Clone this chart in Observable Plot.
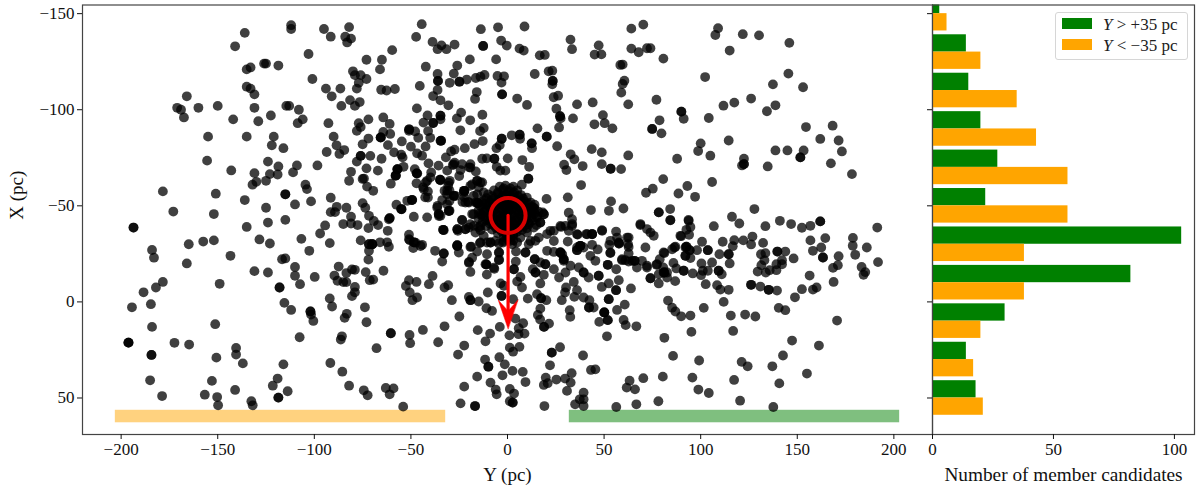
<!DOCTYPE html>
<html><head><meta charset="utf-8">
<script src="https://cdn.jsdelivr.net/npm/d3@7"></script>
<script src="https://cdn.jsdelivr.net/npm/@observablehq/plot@0.6"></script>
<style>
html,body{margin:0;padding:0;background:#fff}
#root{position:relative;width:1200px;height:491px;overflow:hidden;font-family:"Liberation Serif",serif}
#root svg{position:absolute;top:0;background:transparent;overflow:visible}
#legend{position:absolute;left:1055px;top:11.5px;width:130.5px;height:46.5px;border:1px solid #d6d6d6;border-radius:3px;background:rgba(255,255,255,.8);color:#222;font-size:17px}
#legend .sw{position:absolute;left:5.5px;width:30px;height:11px}
#legend .tx{position:absolute;left:47px;white-space:nowrap;line-height:17px}
</style></head><body><div id="root"></div>
<script>
const starsUpperLeft = [[-112,-144],[-112,-142],[-136,-140],[-141,-133],[-95,-142],[-91.5,-138],[-82,-143],[-84,-138],[-81,-137],[-83,-135],[-103,-129],[-73,-126],[-126,-124],[-125,-124],[-118.6,-123],[-133,-122],[-135,-121],[-80,-120],[-79,-118],[-76,-118],[-73,-116],[-101,-116],[-77,-114],[-78,-111],[-135,-112],[-133,-111],[-131,-108],[-94,-111],[-86.5,-111],[-91,-107],[-81.5,-105],[-76.5,-104],[-79,-102],[-86,-102],[-166,-107],[-171,-101],[-169,-100],[-167.5,-96],[-160,-101],[-150,-102],[-131,-101],[-114.5,-102],[-113,-102],[-108,-100],[-122.5,-97],[-129,-94],[-142,-95],[-106,-95],[-108.6,-93],[-92.7,-93],[-77,-93],[-72,-95],[-76,-91],[-78,-89],[-155,-86],[-135,-86],[-121,-86],[-90,-86],[-72,-85],[-75,-82],[-122,-81.5],[-116,-80],[-88.5,-81.5],[-84.5,-79],[-93.6,-78],[-87,-77],[-76,-76],[-71,-76],[-78,-73],[-155.5,-73.5],[-124,-73],[-118.6,-70.5],[-109,-71],[-98.4,-71],[-73,-69.5],[-143,-68.4],[-131,-67],[-123,-66.5],[-119,-66.3],[-111,-67.4],[-81,-67.7],[-75,-64],[-82,-63],[-125,-63],[-130,-62.5],[-132,-61],[-104.6,-61],[-103.8,-58.7],[-72.7,-60],[-178.4,-57.5],[-151,-56.3],[-115,-56],[-115,-56],[-136,-53],[-91.5,-54.2],[-101.7,-52.3],[-110,-50.7],[-75,-51.4],[-88.4,-49.5],[-73.6,-49],[-83.4,-49],[-125,-49],[-173,-47],[-152,-45.7],[-91.5,-46.7],[-89.3,-46.7],[-81,-44.3],[-71.7,-44.8]];
const starsLowerLeft = [[-193.6,-38.7],[-193.6,-38.7],[-135,-39],[-124,-41.3],[-115,-42.7],[-94.4,-39.8],[-85,-40.5],[-81,-40.8],[-77.6,-40],[-72,-38.4],[-97,-35.6],[-184,-27],[-183,-23],[-165,-30],[-157.5,-31.4],[-152,-32],[-128.4,-32.5],[-123,-30.4],[-106.7,-32.8],[-92,-30.6],[-76,-32],[-71.7,-30],[-71.7,-30],[-102.6,-26.6],[-143.4,-24],[-166,-20],[-116.7,-22.2],[-115,-22.6],[-71.7,-26.6],[-72,-22],[-110,-18.2],[-87.4,-18.4],[-131,-16],[-124,-15.3],[-110,-13.6],[-99.8,-13],[-89.6,-13.7],[-83.4,-15],[-80.5,-16.9],[-79,-16.7],[-73.4,-15.5],[-71.3,-11.3],[-88,-11],[-85,-10.3],[-83.4,-10.3],[-107.4,-9.2],[-149,-9.4],[-178.4,-10.4],[-182,-7.5],[-188.4,-5],[-118,-7.5],[-118,-7.5],[-79,-7.8],[-79,-5],[-80.5,-3],[-92,-1.8],[-184.6,1.2],[-194.4,2.8],[-115.5,0.5],[-112,4.2],[-90.8,2.4],[-73.8,2.8],[-102,5],[-102,5],[-101.7,6.6],[-100.5,9.9],[-83.2,6.2],[-84.3,8.3],[-73,10.6],[-184,13],[-151.3,11.6],[-107.6,18.4],[-85.7,17.9],[-86.3,19.6],[-196.2,21.2],[-196.2,21.2],[-196.2,21.2],[-172.4,21.3],[-164.8,22.2],[-140.5,24],[-140.5,27.4],[-184.3,27.6],[-184.3,27.6],[-150.7,29],[-137,32],[-116,32.5],[-91.7,31.8],[-85.5,36.3],[-119,39.9],[-185,40.8],[-153,41.1],[-121.5,43.6],[-82,43.6],[-113.8,46.5],[-141,45.8],[-74.4,46],[-72.4,48.6],[-178.8,49],[-156.7,48.3],[-150.3,49.5],[-118.6,49.8],[-118.6,49.8],[-132.6,51.7],[-131.9,53.8],[-149.8,53.8]];
const starsUpperMiddle = [[-44.4,-144.5],[-47.3,-137.9],[-59.7,-131],[-65,-126],[-66,-121],[-65.4,-110.4],[-62.6,-110],[-58.3,-110.8],[-38.8,-135.3],[-36.2,-131.5],[-34.2,-133.5],[-31.6,-131.5],[-27.4,-133.9],[-42.3,-122.4],[-26,-123],[-19.5,-126.2],[-13.8,-141.9],[-4.9,-142.9],[8.8,-143.3],[-12.6,-133.2],[-12.6,-133.2],[-3.3,-136],[-0.4,-133.4],[6.2,-131.8],[8.4,-130.8],[-5.9,-126.2],[16.7,-128.3],[19.3,-128.5],[32.6,-136.5],[33.4,-131.5],[47.2,-133.5],[45.1,-128.7],[48.6,-128.8],[64.1,-142.2],[70.3,-144.3],[64.1,-131.8],[67.9,-129.9],[72.2,-132],[58.4,-123.3],[59.6,-123.5],[-36.2,-118.6],[-27.8,-118.8],[-36,-115],[-36,-115],[-29.9,-114],[-24.9,-114.6],[-24.9,-114.6],[-21.1,-115.7],[-16.4,-116.5],[-14,-117.2],[-11.9,-118.1],[-5.2,-117.6],[-1.8,-117.4],[-3.1,-114.1],[-2.8,-108],[-2.8,-108],[-45.4,-112.4],[-36.2,-110.3],[-38.5,-107.1],[-34.7,-104.9],[-30.6,-102.3],[-15.9,-109.2],[-16.8,-105.6],[5,-105.8],[10.1,-102.5],[14.1,-118.6],[21.3,-120],[23.2,-120.3],[23.4,-115],[23.4,-115],[23.2,-113.2],[26.2,-107.3],[23.9,-106.5],[36,-102.8],[44.1,-103.8],[62.5,-102.8],[60.5,-115.1],[59.6,-113.4],[58.9,-108.9],[25.3,-100.5],[27.2,-96.6],[27.2,-96.6],[27.5,-95.5],[26.7,-90.8],[33.9,-95.5],[49.4,-97.2],[45,-92.4],[50.3,-93],[54.3,-90.3],[-46.9,-100.7],[-64.3,-96],[-61,-92.6],[-41.4,-97],[-43.5,-93.3],[-38.5,-93.1],[-38.5,-93.1],[-34.7,-96.9],[-34.7,-96.9],[-34.7,-95],[-24,-98.5],[-26.2,-95.5],[-19.3,-94.5],[-13,-97.4],[-24.4,-89.3],[-12.3,-90.5],[-14.2,-88.9],[-64.3,-88.4],[-60.7,-87.4],[-65.6,-85.6],[-65.6,-85.6],[-50.9,-89.8],[-50.9,-89.8],[-47.8,-88.7],[-41.1,-88.9],[-46.2,-85.4],[-40,-85.4],[-34.4,-83.9],[-34.4,-83.9],[-54.7,-83.5],[-61.9,-81.6],[-50,-80.8],[-42.4,-80.9],[15.5,-90.3],[20.3,-86],[20.3,-86],[2.2,-86.7],[6.3,-87],[6.3,-87],[6.5,-84.9],[-3,-84.9],[-3,-84.9],[-4,-81.6],[-5.7,-80],[12.5,-82.5],[12.5,-82.5],[12.7,-80],[25.7,-81],[43.6,-79.5],[48.8,-77.8],[62.5,-76.2],[32.7,-76.8],[34.6,-74.2],[38.9,-70.7],[48.8,-71.7],[53.4,-69.3],[53.4,-69.3],[58.8,-69.1],[29.3,-71.4],[30.5,-68.6],[38.1,-60.8],[31.2,-54.4],[71.7,-56.8],[43.2,-47.8],[53.6,-52.3],[52.5,-47.4],[60,-48.6],[31.7,-46.4],[-22.1,-80],[-17.1,-82.1],[-12.8,-83.7],[-27.4,-79.2],[-29.2,-78.3],[-31.9,-75.2],[-58.7,-77.8],[-55,-76.6],[-54.3,-75.2],[-46.8,-77.3],[-44.2,-76.1],[-65.2,-74.5],[-40.9,-72.1],[-53.8,-70.3],[-67.1,-68.3],[-56.9,-69.1],[-56.9,-69.1],[-57.8,-65.8],[-57.8,-65.8],[-48,-69.1],[-47,-66.9],[-47,-66.9],[-35.7,-70.9],[-31.2,-68.3],[-27.4,-72.4],[-28.3,-71.2],[-23.5,-71.7],[-19.2,-71.7],[-19.9,-70],[-24.3,-68.6],[-25,-65.5],[-16.4,-67.9],[-13.1,-74.5],[-10.7,-74.7],[-6.8,-74.5],[-6.8,-74.5],[0.1,-74.7],[7.7,-73.8],[11.2,-70.3],[-5.6,-70.3],[-3.7,-68.3],[-1.1,-68.3],[10.8,-64.1],[10.8,-64.1],[7.4,-61],[-60.4,-61.5],[-69.5,-57.8],[-47.1,-61.7],[-39.5,-67.4],[-39.9,-64.8],[-42.4,-62.2],[-43.7,-59.6],[-41.2,-57.5],[-42.6,-54.4],[-34.9,-63.6],[-34.9,-63.6],[-29.9,-63],[-30.7,-60.4],[-32.6,-57.8],[-30,-57.8],[-27.8,-55.2],[-22.3,-57.8],[-22.3,-57.8],[-19.2,-60.4],[-15.7,-63],[-13.1,-62.2],[-14.9,-59.6],[-12.3,-57],[-22.3,-54.4],[-17.5,-55.2],[-23.3,-52],[-20.4,-52.1],[-15.4,-51.4],[-15.4,-51.4],[-33.8,-53],[-30,-52.6],[-49.5,-53],[-49.5,-53],[-51.9,-52.6],[-57.5,-50.6],[-55,-48.3],[-55,-48.3],[-41.6,-44],[-36.2,-50],[-35.6,-45.7],[-35.6,-45.7],[-30,-47.4],[-48.5,-44.3],[-61,-43.6],[-61,-43.6],[-18.3,-45.7],[-14.8,-45.7],[-23.5,-42.7]];
const starsCore = [[-4,-60],[-1,-60.5],[3,-60],[-7,-58],[-2.5,-58.3],[1,-57.6],[5,-58],[-10,-56],[-5,-56.2],[-1,-55.7],[3,-56],[7,-55.6],[-11,-54],[-7,-53.7],[-3,-54.2],[0.5,-53.6],[4,-54],[8,-53.8],[10,-54.3],[-13,-52],[-9,-51.7],[-5,-52.2],[-1.5,-51.8],[2,-52],[6,-51.6],[9,-52.2],[12,-51.7],[-14,-50],[-10,-49.6],[-6,-50.2],[-2,-49.7],[1.5,-50],[5,-49.8],[8.5,-50.3],[12.5,-49.5],[-15,-47.6],[-11,-48],[-7,-47.5],[-3,-48],[0.5,-47.4],[4,-47.8],[8,-47.5],[11.5,-47.9],[-13.5,-45.6],[-9,-45.9],[-5,-45.4],[-1,-45.8],[3,-45.3],[7,-45.8],[10.5,-45.4],[14,-46],[-15,-43.4],[-11,-43.8],[-7,-43.3],[-3,-43.8],[1,-43.2],[5,-43.7],[9,-43.3],[12.5,-43.8],[-13,-41.5],[-9,-41.8],[-5,-41.3],[-1,-41.7],[3,-41.2],[7,-41.7],[11,-41.2],[-11,-39.5],[-7,-39.8],[-3,-39.3],[1,-39.8],[5,-39.3],[9,-39.7],[-8,-37.6],[-4,-37.9],[0,-37.4],[4,-37.8],[7.5,-37.4],[-5,-35.7],[-1,-35.9],[3,-35.5],[-2,-33.8],[1.5,-33.6],[20.2,-53.6],[33.5,-40.5],[27.4,-39.5],[24,-31.7],[22.2,-37],[18.8,-45.6],[18.8,-45.6],[18.2,-46.6],[17,-41.3],[17,-41.3],[13.6,-49],[15.3,-43.9],[13.6,-38.7],[16.2,-33.5],[11.9,-31.7],[-23.5,-42.5],[-26,-37.8],[-21.8,-37.8],[-26,-29.1],[-19.2,-28.6],[-14,-30.9],[-18.3,-23],[-20,-20.4],[-11.4,-19.6],[-4.5,-25.7],[-4.5,-21.8],[-7.1,-17.8],[-17.5,-45.6],[-19.2,-40.4],[-14,-39.6],[-16.6,-36.1],[-12.3,-34.3],[-10.6,-30.9],[-6.3,-31.7],[-1.9,-31.7],[2.4,-30],[6.7,-33.5],[10.1,-36.1],[-22.6,-56.9],[-31.3,-56],[-27.8,-55.2],[-21.8,-51.7],[-16.6,-51.7],[-15.7,-56],[-14,-62.1],[-18.3,-61.2],[-31.3,-50.8],[-30.4,-47.4],[-34.7,-44.8]];
const starsCoreFill = [[-2,-59],[1.5,-59],[-5,-57],[0,-56.8],[3.5,-57],[-8,-55],[-3,-55],[1,-54.9],[5.5,-55],[-12,-53],[-8,-52.8],[-4,-53],[-0.5,-52.9],[3,-53],[7,-52.8],[-11.5,-51],[-7.5,-50.9],[-3.5,-51],[0,-51],[4,-50.9],[7.5,-51],[11,-50.8],[14,-50.6],[-12.5,-48.8],[-8.5,-48.9],[-4.5,-49],[-0.5,-48.8],[3,-48.9],[6.5,-48.8],[10,-48.9],[14,-48.5],[-12,-46.7],[-8,-46.8],[-4,-46.7],[-0.2,-46.6],[4,-46.7],[8,-46.6],[12,-46.7],[16,-47],[-13,-44.6],[-9,-44.7],[-5,-44.5],[-1,-44.6],[3,-44.5],[7,-44.6],[11,-44.4],[15,-44.7],[-11,-42.6],[-7,-42.6],[-3,-42.5],[1,-42.5],[5,-42.4],[9,-42.5],[13,-42.3],[-9,-40.6],[-5,-40.6],[-1,-40.5],[3,-40.4],[7,-40.5],[11,-40.4],[15,-40],[-6,-38.6],[-2,-38.6],[2,-38.6],[6,-38.5],[10,-38.3],[-3,-36.7],[1,-36.7],[5,-36.5],[-0.5,-34.7],[3,-34.6],[0,-32.5],[3,-32]];
const starsBandLeft = [[-22.6,-57.8],[-19.2,-69.9],[-15.7,-63],[-27.8,-71.6],[-34.7,-63.3],[-30.4,-62.1],[-31.2,-57.8],[-26.9,-55.1],[-20,-51.7],[-15.7,-51.7],[-41.6,-63],[-43.3,-58.6],[-41.2,-54.3],[-36.4,-49.1],[-35.5,-44.7],[-30.4,-47.3],[-33,-37.3],[-26,-37.8],[-20,-38.7],[-14.8,-38.7],[-26,-29.1],[-49.3,-53.1],[-54.8,-48.2],[-61.4,-43],[-69.2,-42.1],[-46.7,-66.8],[-57.1,-69],[-58,-65.6],[-65.7,-85.5],[-51,-89],[-34.7,-83.8],[-76,-76],[-74.3,-64.2],[-70,-30],[-51,-32.6],[-47.6,-30.8],[-45,-29.1]];
const starsBandRight = [[28.3,-24.8],[29.1,-21.4],[36,-28.3],[43.8,-35.2],[41.2,-35.2],[57.6,-30.9],[71.4,-28.3],[75.7,-34.4],[64.5,-21.4],[61,-21.7],[80.8,-15.3],[92.1,-28.3],[33.4,-43],[33.4,-39.6],[30,-39.6],[36,-35.2],[49,-37],[53.3,-31.8],[62.7,-33.5],[62.7,-28.6],[53.3,-25.7],[68.8,-40.5],[74,-36.1],[84.3,-42.5],[93.8,-42.2],[89.5,-34.4],[86.4,-28.3],[80.8,-25.7],[77.4,-19.6],[72.2,-18.8],[59.3,-22.2]];
const starsLowerMiddle = [[-33.3,-37.5],[-33.3,-37.5],[-25.7,-37],[-21.8,-37.9],[-17.4,-39.6],[-14,-37.3],[-67,-40],[-62,-37],[-66,-31],[-62.3,-31],[-61.4,-28.7],[-70,-30],[-70,-30],[-51,-35],[-50.6,-32.1],[-48.5,-31],[-48.5,-31],[-44.2,-29.7],[-48.8,-28],[-37.5,-26.6],[-33,-25.2],[-33,-25.2],[-33.8,-21],[-26,-29.5],[-26,-29.5],[-25.2,-25.7],[-18.8,-28.8],[-14.3,-30.6],[-15.7,-26.2],[-19.9,-20.8],[-19.2,-15.6],[-10.6,-24.8],[-4.3,-25.7],[-4.3,-21.9],[-10.9,-19.5],[-10.9,-19.5],[-6.8,-17.2],[-10.7,-14.2],[3.3,-17],[3.3,-17],[4.3,-21],[9.3,-25.7],[9.3,-25.7],[4.4,-26.2],[-2.3,-30.9],[-8.8,-30.9],[-8.8,-30.9],[-4.5,-30.4],[1.5,-31.8],[5,-30.9],[11,-30],[14.4,-31.8],[20.5,-35.3],[24,-37],[27.7,-39],[31.2,-31.4],[31.7,-37],[36.3,-35],[40.8,-35.3],[43.8,-35.3],[43.8,-35.3],[48.9,-37.3],[56.2,-36.6],[61.9,-33.5],[68.8,-40],[72.2,-37.9],[56.7,-33.5],[57.7,-30.4],[57.7,-30.4],[62.4,-30],[52.7,-29.7],[53.2,-25.4],[62.7,-25.2],[59.3,-21.7],[62.7,-21],[65.8,-21.4],[65.8,-21.4],[69.6,-21.4],[43.8,-29.7],[46.7,-27.3],[37.7,-29.2],[37.7,-29.2],[37.7,-29.2],[36,-26.9],[36,-26.9],[20.5,-26.6],[24,-26],[27.4,-25.7],[27.4,-25.7],[27.4,-25.7],[29.1,-22.2],[29.1,-22.2],[14.1,-22.2],[14.1,-22.2],[17,-20.5],[19.6,-19.6],[19.6,-19.6],[13.1,-17],[14.5,-15.3],[14.5,-15.3],[18.8,-14.1],[24,-17],[26.7,-12.7],[30,-15.3],[32.6,-18.8],[36.9,-17.9],[42.9,-24],[45.5,-21.4],[39.4,-15.3],[39.4,-15.3],[42,-12.7],[47.2,-13.6],[47.2,-13.6],[51.9,-19.3],[51.9,-19.3],[56.3,-17],[39.4,-28.3],[72.2,-17.9],[67,-17.9],[57.6,-11.3],[52.4,-9.6],[48.8,-7.8],[56.2,-6.1],[56.2,-6.1],[63.9,-7],[52.4,-1.4],[52.4,-1.4],[34.3,-10.4],[30.3,-7.5],[29.8,-4.9],[36,-6.1],[34.6,-2.6],[28.1,-0.9],[39.4,-2.3],[42.4,-0.9],[42.2,2.9],[42.2,2.9],[44.6,2.9],[60.7,1.4],[56.7,4.2],[50.1,5.5],[50.1,5.5],[50.1,5.5],[51.9,9.5],[51.9,9.5],[47.5,10.4],[32.2,4.3],[32.5,7.8],[60.1,9.4],[61.2,12.1],[66.7,12.7],[51.5,17.9],[17,-9.6],[7.5,-7.5],[5,-10.6],[6.7,-13],[-3.6,-9.6],[-1.9,-8.4],[-10.2,-4.9],[-3.1,-3.1],[-3.1,-3.1],[2.9,-1.4],[10.5,-1.7],[15.3,-4],[17.4,-1.9],[17.4,-1.9],[20.1,-0.9],[17,3.5],[15.7,6.8],[16.9,9.2],[21.5,11.3],[18.9,13],[18.9,13],[-47.1,-10.4],[-51,-11.3],[-52.6,-8.3],[-50.6,-4.9],[-46.8,-2.3],[-49.2,-0.9],[-40.7,-9.2],[-38.8,-13.5],[-32.6,-7.5],[-30.7,-8.7],[-28.8,-0.9],[-20,-2.6],[-19.2,-0.9],[-19.2,-0.9],[-14.9,-0.2],[-10.9,3.3],[-8,4.7],[-24.9,7.6],[-64.2,-16.2],[-69.5,-11.6],[4.1,8.7],[-4,13],[8.1,11.1],[5.8,13.7],[8.8,16.5],[5.7,16.8],[1,17.4],[-15.4,14.7],[-9,16.5],[-11.4,20.5],[-32.6,12.7],[-43.8,14.6],[-60.4,16.3],[-60.4,16.3],[-50.7,17.2],[-50.4,21.5],[-67.8,24.1],[-35.9,21],[-22.4,22.7],[-25.6,27.4],[1.2,23.8],[2.9,25.9],[6.2,23.4],[-11.6,30],[-4.2,28.8],[-1.4,32.5],[-9.9,33.7],[-9.9,33.7],[2.6,35.9],[-2.6,38.2],[7.9,36.4],[-15.7,38.9],[-8.8,42],[9.3,41.7],[-22.4,44.1],[-6.1,45.6],[-5.6,48.1],[1.2,45.3],[3.4,47.7],[-24.3,52.8],[-16.8,54.2],[-16.8,54.2],[1.2,51.7],[2.7,52.4],[2.7,52.4],[19.1,54.2],[-54,54.5],[-63,44.8],[-59,45],[-61,48.1],[22.9,26.4],[22.9,26.4],[27.2,23.6],[22,33],[39.1,27.9],[43.2,35.4],[45.5,35.1],[33.2,37.1],[29.8,39.9],[25.3,40.4],[19.8,39.4],[20.8,42.3],[18.8,43.2],[32.7,42],[30.8,46.3],[39.4,47.2],[37.4,50.7],[39.4,50.7],[35,53.3],[39.4,54.2],[63.2,41],[70.3,39.7],[61.7,44.6],[66,45.5],[56.3,54.7],[66.7,53.3]];
const starsUpperRight = [[109,-142.4],[107.6,-138.9],[121.8,-139.3],[130.2,-138.7],[145.9,-134.8],[115,-130.8],[80.7,-126.6],[74,-132],[102.3,-117],[145.4,-118.8],[137.4,-113.2],[153,-111.7],[77.1,-105.2],[126.1,-105.8],[117.4,-103.7],[111.8,-102.1],[138.7,-102.3],[134.3,-99.2],[90,-99],[90,-99],[91.2,-95.3],[104.2,-95.7],[78.7,-94.5],[74.9,-90],[74.9,-90],[79.7,-87.7],[154.5,-91],[168.3,-91.7],[161.9,-84.8],[171.4,-84],[173.1,-78.3],[114.5,-84],[100,-82.5],[98.7,-78.5],[105,-76.1],[87.8,-74.5],[138.7,-78.8],[144.9,-78.8],[153.3,-78.8],[151.6,-75.2],[151.6,-75.2],[167.4,-72.1],[122.4,-74.5],[122.4,-71.7],[122.4,-71.7],[121.4,-71],[134.7,-70.5],[178.3,-66.5],[80.6,-63.9],[105.9,-62.4],[75.2,-58.9],[93.1,-60.3],[88.5,-56.4],[97.1,-54.7],[84.2,-48.3],[78.3,-46.6],[78.3,-46.6],[127.8,-48.3],[116.2,-44.3],[93.7,-42.7],[84.3,-42.6]];
const starsLowerRight = [[94.7,-39],[92.6,-37.5],[94,-34.9],[89.9,-34.2],[106.8,-39.4],[120,-40.8],[133.5,-39.4],[141,-42.2],[146.8,-40.5],[152.4,-38.6],[156.8,-39.6],[161.9,-41.9],[161.9,-41.9],[191.4,-38.7],[164.5,-33.2],[156.8,-32],[178.8,-33.3],[178.7,-29.2],[186,-28.3],[162.4,-28.3],[158.1,-26.6],[163.3,-23.1],[163.3,-23.1],[180,-24.5],[171.4,-23.8],[171,-19.1],[168.5,-17.7],[191.8,-20.7],[183.3,-18.2],[185.2,-15.5],[184.3,-14.1],[156.4,-13.7],[168.8,-10.4],[160,-7.5],[158.1,-6.4],[152.4,-6.6],[148.8,-2.4],[140.4,3.1],[143.8,4.3],[170.6,9.7],[147.3,20.1],[161.2,22.7],[142.6,27.9],[137.1,33.5],[155,37.3],[140.7,42.4],[137.6,54.7],[120.4,51.4],[117.3,40.6],[121.2,31.2],[124.3,33.5],[99.2,30.5],[95.7,39.4],[98.8,45.6],[104.2,47.4],[85.7,28.1],[80.4,38.9],[78.1,51.7],[81.2,18.7],[95.2,15.6],[116.8,15.1],[115.6,7.1],[123,6.6],[128.3,7.6],[94.7,7.1],[89.9,7.5],[86.9,5],[85.2,3],[83.1,-0.7],[101.6,3.1],[111.9,0],[114.5,-6.3],[110.2,-6.4],[108.5,-8.7],[102.6,-9.2],[126.1,-8.9],[126.1,-8.9],[130.9,-8],[135.2,-6.3],[135.2,-6.3],[139.5,-5.9],[78.3,-9.6],[86.8,-10.8],[82.6,-12.7],[74,-12.3],[74,-12.3],[78.3,-14.4],[81.2,-15.3],[81.2,-15.3],[82.6,-15.3],[87.4,-17.4],[80.6,-17.9],[77.1,-19.3],[85.9,-20.3],[78.8,-22.2],[81.2,-25.4],[85.2,-27.4],[86.9,-28.7],[92.6,-28.7],[92.6,-28.7],[94.3,-26.9],[94.3,-26.9],[92.1,-24],[92.1,-24],[94.7,-22.8],[98.1,-26.9],[100.7,-31.3],[103.7,-26.9],[103.7,-26.9],[100.4,-20],[105.9,-20.5],[91.2,-16.2],[91.2,-16.2],[95.9,-14.8],[100.2,-13.9],[101.1,-16.2],[103.7,-16.2],[109.3,-16.2],[109.3,-16.2],[110.9,-14.4],[109.7,-24.8],[114.5,-24.8],[114.5,-24.8],[115,-20],[111.4,-31.3],[117.4,-32.1],[116.6,-29],[122.1,-32],[126.8,-34],[126.1,-29.9],[132.3,-30.7],[131.2,-24.8],[133.5,-25.4],[133,-21.7],[131.4,-19.1],[129.5,-15.8],[133.7,-15.3],[135.7,-16.5],[139.2,-16.5],[139.2,-19.6],[142.1,-21.7],[142.1,-19.6],[139.7,-26.2],[139.7,-26.2],[143.8,-26.2],[148.1,-22.6]];

const binStartsGreen = [-159,-139,-119,-99,-79,-59,-39,-19,1,21,41];
const countsGreen  = [3,14,15,20,27,22,103,82,30,14,18];
const countsOrange = [6,20,35,43,56,56,38,38,20,17,21];
const binWidth = 9;
const xTicks = [-200,-150,-100,-50,0,50,100,150,200];
const yTicks = [-150,-100,-50,0,50];
const histTicks = [0,50,100];
const xDomain = [-220,220];
const yDomain = [69,-154.5];
const bands = [{y1:-203,y2:-32,fill:"orange"},{y1:32,y2:203,fill:"green"}];
const bandRow = [56.4,62.9];
const memberY = 0.3, memberX = -45, arrowTipX = 14;
const headOutline = [[0.3,14],[-4.8,-1],[0.3,4.7],[5.4,-1]];

const stars = [...starsUpperLeft,...starsLowerLeft,...starsUpperMiddle,...starsCore,...starsCoreFill,...starsBandLeft,...starsBandRight,...starsLowerMiddle,...starsUpperRight,...starsLowerRight];
const minus = s => String(s).replace("-","\u2212");
const font = '"Liberation Serif",serif';
const frameColor = "#444";
const root = document.getElementById("root");

const main = Plot.plot({
  width: 932, height: 491, marginLeft: 82, marginRight: 0, marginTop: 4.5, marginBottom: 57,
  style: {fontFamily: font, fontSize: "17px", color: "#111"},
  x: {domain: xDomain, label: null},
  y: {domain: yDomain, label: null},
  marks: [
    Plot.rect(bands, {x1:"y1", x2:"y2", y1:()=>bandRow[0], y2:()=>bandRow[1], fill:"fill", fillOpacity:.5}),
    Plot.dot(stars, {x:d=>d[0], y:d=>d[1], r:4.9, fill:"black", fillOpacity:.75}),
    Plot.line([[memberY,memberX],[memberY,arrowTipX-4]], {x:d=>d[0], y:d=>d[1], stroke:"red", strokeWidth:3.2}),
    Plot.line(headOutline, {x:d=>d[0], y:d=>d[1], fill:"red", stroke:"red", strokeWidth:.5, curve:"linear-closed"}),
    Plot.dot([[memberY,memberX]], {x:d=>d[0], y:d=>d[1], r:17.5, stroke:"#d80000", strokeWidth:4, fill:"none"}),
    Plot.frame({stroke:frameColor, strokeWidth:1.2}),
    Plot.axisX({ticks:xTicks, tickSize:5, tickPadding:3, tickFormat:minus, label:null, fontSize:17}),
    Plot.axisY({ticks:yTicks, tickSize:5, tickPadding:3, tickFormat:minus, label:null, fontSize:17}),
    Plot.text(["Y (pc)"], {frameAnchor:"bottom", dy:46, lineAnchor:"bottom", fontSize:19, fill:"#111"}),
    Plot.text(["X (pc)"], {frameAnchor:"left", dx:-66, rotate:-90, fontSize:19, fill:"#111"})
  ]
});
main.style.left = "0px";
root.appendChild(main);

const hist = Plot.plot({
  width: 320, height: 491, marginLeft: 52, marginRight: 6, marginTop: 4.5, marginBottom: 57,
  style: {fontFamily: font, fontSize: "17px", color: "#111"},
  x: {domain: [0,108.3], label: null},
  y: {domain: yDomain, label: null},
  marks: [
    Plot.rectX(binStartsGreen, {x1:()=>0, x2:(d,i)=>countsGreen[i], y1:d=>d, y2:d=>d+binWidth, fill:"green", inset:0, clip:true}),
    Plot.rectX(binStartsGreen, {x1:()=>0, x2:(d,i)=>countsOrange[i], y1:d=>d+binWidth, y2:d=>d+2*binWidth, fill:"orange", inset:0, clip:true}),
    Plot.frame({stroke:frameColor, strokeWidth:1.2}),
    Plot.axisX({ticks:histTicks, tickSize:5, tickPadding:3, label:null, fontSize:17}),
    Plot.axisY({ticks:yTicks, tickSize:5, tickFormat:()=>"", label:null}),
    Plot.text(["Number of member candidates"], {frameAnchor:"bottom", dy:46, lineAnchor:"bottom", fontSize:19.3, fill:"#111"})
  ]
});
hist.style.left = "880px";
root.appendChild(hist);

const legend = document.createElement("div");
legend.id = "legend";
legend.innerHTML = '<div class="sw" style="top:5.5px;background:green"></div><div class="tx" style="top:3.5px"><i>Y</i> &gt; +35 pc</div>'
  + '<div class="sw" style="top:26.5px;background:orange"></div><div class="tx" style="top:24.5px"><i>Y</i> &lt; \u221235 pc</div>';
root.appendChild(legend);
</script></body></html>
